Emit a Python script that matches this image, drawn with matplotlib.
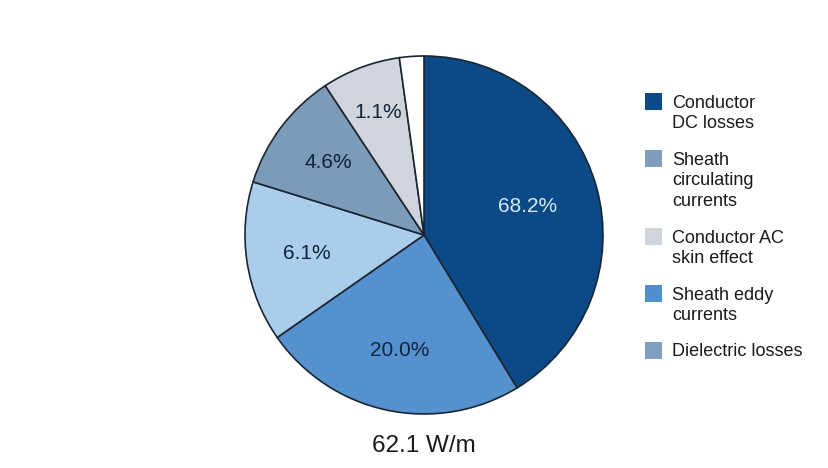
import matplotlib
matplotlib.use("Agg")
import matplotlib.pyplot as plt
from matplotlib.patches import Rectangle
import numpy as np

# Slice shares as drawn (degrees, expressed in %)
slice_shares = [41.3, 24.0, 14.5, 10.9, 7.1, 2.2]
slice_labels = ["68.2%", "20.0%", "6.1%", "4.6%", "1.1%", ""]
slice_colors = ["#0b4a87", "#5591cf", "#a9cdeb", "#7b9bb8", "#d0d5db", "#ffffff"]
label_colors = ["#d8e8f6", "#10243a", "#10243a", "#10243a", "#10243a", "#10243a"]
label_radius = [0.60, 0.66, 0.66, 0.67, 0.73, 0.0]

legend_names = ["Conductor\nDC losses", "Sheath\ncirculating\ncurrents",
                "Conductor AC\nskin effect", "Sheath eddy\ncurrents", "Dielectric losses"]
legend_colors = ["#0b4a87", "#7f9ebb", "#d0d5db", "#4f8fd0", "#7f9fc0"]
total_label = "62.1 W/m"

FONT = "Liberation Sans"
W, H = 829, 468
fig = plt.figure(figsize=(W / 100, H / 100), dpi=100)
fig.patch.set_facecolor("white")

cx, cy, r = 424, 235, 179
ax = fig.add_axes([(cx - r) / W, (H - cy - r) / H, 2 * r / W, 2 * r / H])
wedges, _ = ax.pie(slice_shares, colors=slice_colors, startangle=90, counterclock=False,
                   wedgeprops=dict(edgecolor="#1b2633", linewidth=1.2))
for w in wedges:
    w.set_clip_on(False)
ax.set_xlim(-1, 1)
ax.set_ylim(-1, 1)
ax.set_aspect("equal")
ax.axis("off")

for w, lab, lc, rr in zip(wedges, slice_labels, label_colors, label_radius):
    if not lab:
        continue
    mid = np.deg2rad((w.theta1 + w.theta2) / 2)
    ax.text(rr * np.cos(mid), rr * np.sin(mid), lab, ha="center", va="center",
            fontsize=15, color=lc, family=FONT)

fig.text(cx / W, 1 - 446 / H, total_label, ha="center", va="center",
         fontsize=17.5, color="#1a1a1a", family=FONT)

# Legend drawn manually
line_h = 20.5
gap = 16
base = 108
sq_x, txt_x, sq = 645, 672, 17
for name, col in zip(legend_names, legend_colors):
    lines = name.split("\n")
    fig.patches.append(Rectangle((sq_x / W, 1 - (base + 2) / H), sq / W, sq / H,
                                 transform=fig.transFigure, facecolor=col,
                                 edgecolor="none", figure=fig))
    for i, ln in enumerate(lines):
        fig.text(txt_x / W, 1 - (base + i * line_h) / H, ln, ha="left", va="baseline",
                 fontsize=13, color="#1a1a1a", family=FONT)
    base += len(lines) * line_h + gap

fig.savefig("out.png", dpi=100, facecolor="white")
